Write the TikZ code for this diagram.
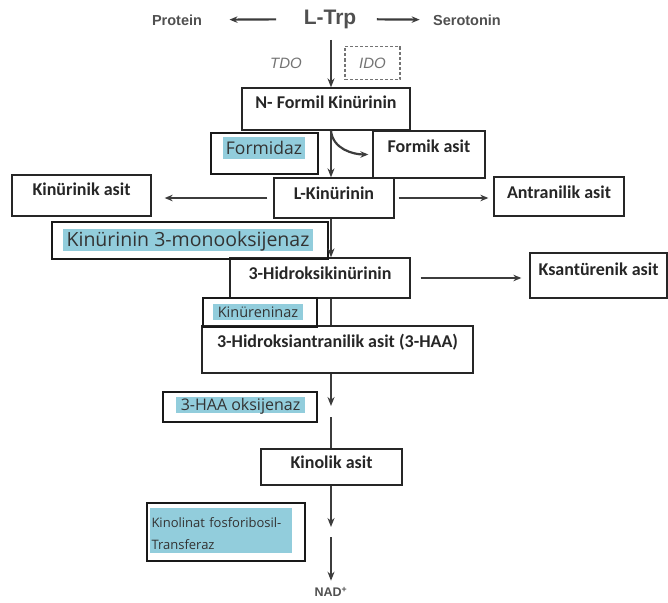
\documentclass[tikz,border=0pt]{standalone}
\usepackage{fontspec}
\setmainfont{Carlito}
\newfontfamily\arialfont{Liberation Sans}
\newfontfamily\enzfont{Open Sans}
\usetikzlibrary{arrows.meta}

\definecolor{hlblue}{RGB}{146,205,220}
\definecolor{inkgray}{RGB}{60,60,60}
\definecolor{topgray}{RGB}{80,80,80}

\begin{document}
\begin{tikzpicture}[x=1pt, y=-1pt,
  box/.style={draw=black!85, line width=1.3pt, inner sep=0pt, text height=12pt,
    font=\fontsize{18}{20}\selectfont\bfseries, text=black!85},
  ebox/.style={draw=black!90, line width=1.3pt, inner sep=0pt},
  hl/.style={fill=hlblue, inner sep=0pt, text depth=0pt, text=black!80},
  flow/.style={draw=inkgray, line width=1.9pt, -{Stealth[length=9pt,width=7pt]}},
  side/.style={draw=inkgray, line width=2.2pt, -{Stealth[length=8pt,width=6.5pt]}},
  trunkline/.style={draw=inkgray, line width=1.9pt}]

  \useasboundingbox (0,0) rectangle (668,602);
  \coordinate (trunk) at (331,0);

  % -- Top row --
  \node[font=\arialfont\fontsize{21}{24}\selectfont\bfseries, text=topgray] (ltrp) at (330,19) {L-Trp};
  \node[font=\arialfont\fontsize{14.5}{16}\selectfont\bfseries, text=topgray] (protein) at (177,20) {Protein};
  \node[font=\arialfont\fontsize{14.5}{16}\selectfont\bfseries, text=topgray] (serotonin) at (467,20) {Serotonin};
  \node[font=\arialfont\itshape\fontsize{15}{17}\selectfont, text=black!55] (tdo) at (286,63) {TDO};
  \node[draw=black!55, dash pattern=on 3pt off 2pt, line width=1.2pt, minimum width=55, minimum height=33,
    font=\arialfont\itshape\fontsize{15}{17}\selectfont, text=black!55] (ido) at (372.5,63) {IDO};

  % -- Metabolites --
  \node[box, minimum width=168, minimum height=42, text depth=12.4pt] (nformil) at (326,109) {N- Formil Kinürinin};
  \node[box, minimum width=112, minimum height=47, text depth=15.4pt] (formik) at (429,154.5) {Formik asit};
  \node[box, minimum width=120, minimum height=40, text depth=8.4pt] (lkin) at (334,198) {L-Kinürinin};
  \node[box, minimum width=139, minimum height=41, text depth=11.4pt] (kinurinik) at (81.5,195.5) {Kinürinik asit};
  \node[box, minimum width=130, minimum height=39, text depth=7.4pt] (antranilik) at (559,196.5) {Antranilik asit};
  \node[box, minimum width=180, minimum height=40, text depth=8.4pt] (hidrok) at (320,278) {3-Hidroksikinürinin};
  \node[box, minimum width=137, minimum height=45, text depth=11.4pt] (ksant) at (598.5,275.5) {Ksantürenik asit};
  \node[box, minimum width=271, minimum height=47, text depth=15.4pt] (haa) at (337.5,349.5) {3-Hidroksiantranilik asit (3-HAA)};
  \node[box, minimum width=141, minimum height=36, text depth=8.4pt] (kinolik) at (331.5,467) {Kinolik asit};
  \node[font=\arialfont\fontsize{12.5}{14}\selectfont\bfseries, text=topgray] (nad) at (331,592) {NAD\textsuperscript{+}};

  % -- Enzymes --
  \node[ebox, minimum width=107, minimum height=41] (formidazbox) at (264.5,153.5) {};
  \node[hl, minimum width=82, minimum height=22, text height=12.5pt, font=\enzfont\fontsize{17.5}{20}\selectfont] (formidaz) at (264,148) {Formidaz};
  \node[ebox, minimum width=276, minimum height=37] (monoxbox) at (190,240.5) {};
  \node[hl, minimum width=250, minimum height=22, text height=13.9pt, font=\enzfont\fontsize{19.5}{22}\selectfont] (monox) at (188,240) {Kinürinin 3-monooksijenaz};
  \node[ebox, minimum width=114, minimum height=29] (kinurbox) at (260,312.5) {};
  \node[hl, minimum width=90, minimum height=16, text height=10.4pt, font=\enzfont\fontsize{14.5}{16}\selectfont] (kinur) at (258,312) {Kinüreninaz};
  \node[ebox, minimum width=154, minimum height=30] (haaoxbox) at (240,407) {};
  \node[hl, minimum width=129, minimum height=16, text height=11.4pt, font=\enzfont\fontsize{16}{18}\selectfont] (haaox) at (240.5,405) {3-HAA oksijenaz};
  \node[ebox, minimum width=158, minimum height=58] (qprtbox) at (226,532) {};
  \node[hl, inner xsep=1.5pt, text width=139pt, align=left, minimum height=45, text height=10pt, text depth=17pt,
    font=\enzfont\fontsize{13}{22}\selectfont] (qprt) at (221,530.5) {Kinolinat fosforibosil-\\Transferaz};

  % -- Gaps in the main line --
  \coordinate (oxtop) at (331,406);
  \coordinate (oxbot) at (331,417);
  \coordinate (nadtop) at (331,527);
  \coordinate (nadbot) at (331,537);

  % -- Connectors --
  \draw[side, shorten <=24pt, shorten >=24pt] (ltrp) -- (protein);
  \draw[side, shorten <=17pt, shorten >=10pt] (ltrp) -- (serotonin);
  \draw[flow, shorten <=8pt] (ltrp.south -| trunk) -- (nformil.north -| trunk);
  \draw[flow] (nformil.south -| trunk) -- (lkin.north -| trunk);
  \draw[side, shorten >=4pt] (nformil.south -| trunk) to[out=-85, in=180] (formik.west);
  \draw[side, shorten <=6pt, shorten >=13pt] (lkin.west) -- (kinurinik.east |- lkin.west);
  \draw[side, shorten <=4pt, shorten >=5pt] (lkin.east) -- (antranilik.west |- lkin.east);
  \draw[flow] (lkin.south -| trunk) -- (hidrok.north -| trunk);
  \draw[side, shorten <=10pt, shorten >=8pt] (hidrok.east) -- (ksant.west |- hidrok.east);
  \draw[trunkline] (hidrok.south -| trunk) -- (haa.north -| trunk);
  \draw[flow] (haa.south -| trunk) -- (oxtop);
  \draw[trunkline] (oxbot) -- (kinolik.north -| trunk);
  \draw[flow] (kinolik.south -| trunk) -- (nadtop);
  \draw[flow, shorten >=3pt] (nadbot) -- (nad.north -| trunk);

\end{tikzpicture}
\end{document}
